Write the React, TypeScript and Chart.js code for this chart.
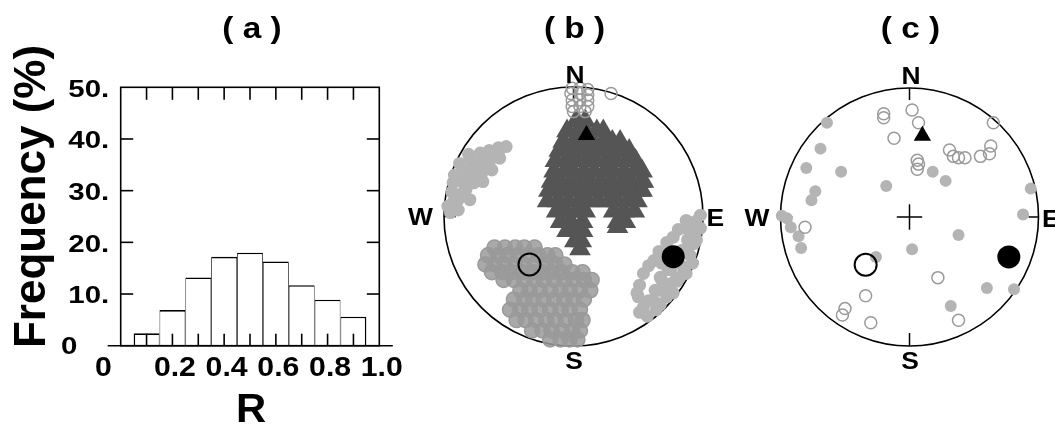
import React, { useEffect, useRef } from 'react';
import { Chart, registerables } from 'chart.js';
Chart.register(...registerables);

// ---------- (a) histogram data ----------
const R_BIN_CENTERS = [0.1, 0.2, 0.3, 0.4, 0.5, 0.6, 0.7, 0.8, 0.9];
const FREQUENCY = [2.4, 6.9, 13.2, 17.2, 18.0, 16.3, 11.7, 8.9, 5.6];
const Y_TICK_VALUES = [0, 10, 20, 30, 40, 50];
const Y_TICK_LABELS = ['0', '10.', '20.', '30.', '40.', '50.'];
const Y_INNER_TICKS = [10, 20, 30, 40];
const X_INNER_TICKS = [0.1, 0.2, 0.3, 0.4, 0.5, 0.6, 0.7, 0.8, 0.9];
const X_TICK_VALUES = [0.2, 0.4, 0.6, 0.8, 1.0];
const X_TICK_LABELS = ['0.2', '0.4', '0.6', '0.8', '1.0'];

// ---------- stereonet data (projection coords, % of primitive radius; x = E, y = N) ----------
const SIGMA1 = [10, 63];
const SIGMA2 = [-34, -37];
const SIGMA3 = [77, -31];

// (b) sigma1 solutions (rows: [y, x-list])
const B_SIGMA1_ROWS: [number, number[]][] = [
  [74, [2, 9]],
  [66, [-5, 3, 10, 18, 23]],
  [58, [-8, 0, 7, 15, 23, 30, 36]],
  [51, [-11, -4, 4, 12, 20, 27, 35, 43]],
  [43, [-14, -6, 2, 10, 17, 25, 33, 41, 48]],
  [35, [-15, -7, 0, 8, 16, 24, 31, 39, 47, 53]],
  [27, [-17, -10, -2, 6, 13, 21, 29, 37, 44, 52, 54]],
  [20, [-19, -11, -3, 4, 12, 20, 27, 35, 43, 51, 53]],
  [12, [-20, -12, -4, 4, 11, 19, 27, 34, 42, 49]],
  [4, [-13, -6, 2, 9, 31, 39, 47]],
  [-4, [-10, -2, 7, 34, 40]],
  [-8, [34]],
  [-11, [-5, 3, 7]],
  [-19, [1, 6]],
  [-25, [5]],
];
const B_SIGMA3_WEST = [
  [-52, 54], [-58, 53], [-65, 51], [-72, 49], [-81, 48], [-57, 45], [-65, 44], [-72, 41], [-80, 44],
  [-88, 41], [-63, 36], [-71, 33], [-79, 35], [-86, 33], [-92, 32], [-70, 27], [-77, 26], [-85, 26],
  [-93, 26], [-94, 19], [-86, 18], [-80, 13], [-93, 11], [-97, 8], [-89, 5], [-95, 3],
  [-83, 21], [-77, 28], [-71, 36], [-65, 42], [-58, 48], [-89, 13], [-75, 38], [-68, 45], [-86, 30], [-80, 36],
];
const B_SIGMA3_EAST = [
  [98, 1], [94, -4], [87, -3], [87, -9], [81, -10], [93, -13], [77, -16], [72, -20], [93, -21], [66, -27],
  [62, -34], [58, -38], [92, -36], [87, -44], [82, -47], [54, -44], [51, -53], [50, -62], [54, -70],
  [57, -77], [62, -65], [68, -57], [75, -52], [80, -50], [64, -72], [72, -62], [77, -59], [67, -47],
  [75, -41], [85, -39], [49, -59], [88, -26], [68, -36],
  [58, -65], [63, -57], [68, -49], [73, -41], [78, -35], [84, -26], [88, -18], [93, -9], [51, -74],
  [67, -68], [73, -58], [79, -49], [85, -40], [90, -30], [95, -18], [98, -9],
];
const B_SIGMA2_ROWS: [number, number[]][] = [
  [-24, [-61, -53, -45, -38, -30]],
  [-30, [-66, -58, -51, -43, -35, -27, -20, -14]],
  [-37, [-68, -61, -53, -45, -38, -30, -22, -14, -7]],
  [-43, [-63, -55, -48, -40, -32, -24, -17, -9, -1, 7]],
  [-49, [-54, -46, -38, -30, -23, -15, -7, 0, 8, 14]],
  [-57, [-41, -34, -26, -18, -10, -3, 5, 13]],
  [-64, [-46, -38, -31, -23, -15, -7, 0, 8]],
  [-72, [-49, -41, -34, -26, -18, -10, -3, 5]],
  [-80, [-44, -37, -29, -21, -14, -6, 2, 7]],
  [-88, [-32, -24, -17, -9, -1, 5]],
  [-95, [-18, -10, -3, 3]],
];
const B_NORTH_OPEN = [
  [-1, 99], [5, 99], [11, 98], [-2, 95], [5, 95], [11, 94], [-1, 90], [5, 90], [11, 90],
  [-1, 85], [5, 85], [11, 85], [0, 81], [9, 81], [29, 95],
];

// (c)
const C_FILLED = [
  [-64, 73], [-69, 53], [-80, 38], [-53, 35], [-73, 20], [-76, 13], [-18, 24], [18, 35], [28, 28],
  [94, 22], [88, 2], [-99, 1], [-95, -1], [-92, -8], [-86, -15], [-84, -24], [38, -14], [2, -25],
  [-26, -31], [60, -55], [81, -56], [32, -69],
];
const C_OPEN = [
  [2, 83], [-20, 80], [-20, 77], [7, 73], [-12, 61], [65, 73], [31, 52], [34, 47], [38, 46], [43, 46],
  [55, 47], [62, 49], [63, 55], [6, 44], [7, 41], [6, 37], [-81, -8], [22, -47], [-34, -61],
  [-50, -71], [-52, -76], [-30, -82], [38, -80],
];

// ---------- helpers ----------
const FONT = '"Liberation Sans", Arial, Helvetica, sans-serif';

function txt(ctx: CanvasRenderingContext2D, s: string, x: number, y: number, size: number,
  sx = 1, align: CanvasTextAlign = 'center', rot = 0) {
  ctx.save();
  ctx.translate(x, y);
  if (rot) ctx.rotate(rot);
  ctx.scale(sx, 1);
  ctx.font = `bold ${size}px ${FONT}`;
  ctx.textAlign = align;
  ctx.textBaseline = 'alphabetic';
  ctx.fillStyle = '#000';
  ctx.fillText(s, 0, 0);
  ctx.restore();
}

function seg(ctx: CanvasRenderingContext2D, x1: number, y1: number, x2: number, y2: number) {
  ctx.beginPath();
  ctx.moveTo(x1, y1);
  ctx.lineTo(x2, y2);
  ctx.stroke();
}

const toPts = (arr: number[][]) => arr.map(([x, y]) => ({ x, y }));
const rowsToPts = (rows: [number, number[]][]) =>
  rows.flatMap(([y, xs]) => xs.map((x) => ({ x, y })));

// ---------- (a) ----------
const histPlugin = {
  id: 'histDecor',
  afterDraw(chart: any) {
    const { ctx, chartArea: a, scales } = chart;
    const x = scales.x, y = scales.y;
    ctx.save();
    ctx.strokeStyle = '#000';
    ctx.lineWidth = 1.6;
    ctx.strokeRect(a.left, a.top, a.right - a.left, a.bottom - a.top);
    seg(ctx, a.left - 13, a.bottom, a.right + 13.5, a.bottom);
    X_INNER_TICKS.forEach((v) => {
      const px = x.getPixelForValue(v);
      seg(ctx, px, a.bottom, px, a.bottom - 12);
      seg(ctx, px, a.top, px, a.top + 12.5);
    });
    Y_INNER_TICKS.forEach((v) => {
      const py = y.getPixelForValue(v);
      seg(ctx, a.left, py, a.left + 12.5, py);
      seg(ctx, a.right, py, a.right - 12.5, py);
    });
    ctx.restore();

    Y_TICK_VALUES.forEach((v, i) => {
      const py = y.getPixelForValue(v);
      if (v === 0) txt(ctx, Y_TICK_LABELS[i], a.left - 51.5, py + 8.6, 23, 1.28, 'center');
      else txt(ctx, Y_TICK_LABELS[i], a.left - 11.5, py + 9.4, 23, 1.28, 'right');
    });
    txt(ctx, '0', a.left - 17.2, a.bottom + 30, 27, 1.12, 'center');
    X_TICK_VALUES.forEach((v, i) => {
      txt(ctx, X_TICK_LABELS[i], x.getPixelForValue(v) + 2.5, a.bottom + 30, 27, 1.12, 'center');
    });
    const mid = (a.left + a.right) / 2;
    txt(ctx, 'R', mid + 1, 421.5, 41, 1.02, 'center');
    txt(ctx, 'Frequency (%)', 45, 196.5, 44, 1, 'center', -Math.PI / 2);
    txt(ctx, '( a )', mid + 2, 38, 29, 1.15, 'center');
  },
};

function histConfig(): any {
  const n = FREQUENCY.length;
  return {
    type: 'bar',
    data: {
      datasets: [{
        data: R_BIN_CENTERS.map((x, i) => ({ x, y: FREQUENCY[i] })),
        backgroundColor: '#ffffff',
        borderColor: '#000000',
        borderWidth: (c: any) => ({
          top: 1.6, bottom: 0,
          left: c.dataIndex === 0 ? 1.6 : 0.8,
          right: c.dataIndex === n - 1 ? 1.6 : 0.8,
        }),
        borderSkipped: 'start',
        barPercentage: 1,
        categoryPercentage: 1,
        inflateAmount: 0,
      }],
    },
    options: {
      responsive: false,
      animation: false,
      events: [],
      layout: { padding: { left: 120.7, right: 25.7, top: 87.3, bottom: 79.3 } },
      scales: {
        x: { type: 'linear', min: 0, max: 1, offset: false, display: false, grid: { offset: false } },
        y: { type: 'linear', min: 0, max: 50, display: false },
      },
      plugins: { legend: { display: false }, tooltip: { enabled: false } },
    },
    plugins: [histPlugin],
  };
}

// ---------- stereonets ----------
function netPlugin(label: string) {
  return {
    id: 'net' + label,
    beforeDatasetsDraw(chart: any) {
      const { ctx, scales } = chart;
      const cx = scales.x.getPixelForValue(0), cy = scales.y.getPixelForValue(0);
      const r = scales.x.getPixelForValue(100) - cx;
      ctx.save();
      ctx.strokeStyle = '#000';
      ctx.lineWidth = 1.6;
      ctx.beginPath();
      ctx.arc(cx, cy, r, 0, Math.PI * 2);
      ctx.stroke();
      ctx.lineWidth = 1.5;
      seg(ctx, cx, cy - r, cx, cy - r + 12);
      seg(ctx, cx, cy + r, cx, cy + r - 13);
      seg(ctx, cx + r, cy, cx + r - 10, cy);
      seg(ctx, cx - r, cy, cx - r + 12, cy);
      seg(ctx, cx - 12.7, cy, cx + 12.7, cy);
      seg(ctx, cx, cy - 12.7, cx, cy + 12.7);
      ctx.restore();
    },
    afterDraw(chart: any) {
      const { ctx, scales } = chart;
      const cx = scales.x.getPixelForValue(0), cy = scales.y.getPixelForValue(0);
      const r = scales.x.getPixelForValue(100) - cx;
      txt(ctx, '( ' + label + ' )', cx + 1, 38, 29, 1.15, 'center');
      txt(ctx, 'N', cx + 1.5, cy - r - 3.7, 24, 1.1, 'center');
      txt(ctx, 'S', cx + 0.5, cy + r + 23, 24, 1.1, 'center');
      txt(ctx, 'E', cx + r + 3.5, cy + 9.6, 24, 1.1, 'left');
      txt(ctx, 'W', cx - r - 11, cy + 8.6, 24, 1.1, 'right');
    },
  };
}

function ds(pts: any[], o: any): any {
  return {
    data: pts,
    pointStyle: o.style || 'circle',
    pointRadius: o.r,
    pointHoverRadius: o.r,
    pointBackgroundColor: o.fill,
    backgroundColor: o.fill,
    pointBorderColor: o.stroke || 'rgba(0,0,0,0)',
    borderColor: o.stroke || 'rgba(0,0,0,0)',
    pointBorderWidth: o.bw || 0,
    borderWidth: o.bw || 0,
    showLine: false,
    clip: false,
    order: o.order,
  };
}

const LIGHT = '#b4b4b4';
const OPEN_GRAY = '#9a9a9a';
const CLEAR = 'rgba(255,255,255,0)';

function axesDatasets(): any[] {
  return [
    ds(toPts([SIGMA1]), { style: 'triangle', r: 10, fill: '#000', order: 1 }),
    ds(toPts([SIGMA2]), { r: 11, fill: CLEAR, stroke: '#000', bw: 2, order: 1 }),
    ds(toPts([SIGMA3]), { r: 11.5, fill: '#000', order: 1 }),
  ];
}

function netConfig(label: string, datasets: any[], padding: any): any {
  return {
    type: 'scatter',
    data: { datasets },
    options: {
      responsive: false,
      animation: false,
      events: [],
      layout: { padding },
      scales: {
        x: { type: 'linear', min: -100, max: 100, display: false },
        y: { type: 'linear', min: -100, max: 100, display: false },
      },
      plugins: { legend: { display: false }, tooltip: { enabled: false } },
    },
    plugins: [netPlugin(label)],
  };
}

function netBConfig() {
  return netConfig('b', [
    ds(rowsToPts(B_SIGMA1_ROWS), { style: 'triangle', r: 12.5, fill: '#555555', order: 10 }),
    ds(toPts(B_SIGMA3_WEST), { r: 6.5, fill: LIGHT, order: 8 }),
    ds(toPts(B_SIGMA3_EAST), { r: 6.5, fill: LIGHT, order: 8 }),
    ds(rowsToPts(B_SIGMA2_ROWS), { r: 7.5, fill: 'rgba(154,154,154,0.85)', stroke: OPEN_GRAY, bw: 1.5, order: 8 }),
    ds(toPts(B_NORTH_OPEN), { r: 6, fill: CLEAR, stroke: OPEN_GRAY, bw: 1.5, order: 7 }),
    ...axesDatasets(),
  ], { left: 39, right: 37, top: 87, bottom: 79 });
}

function netCConfig() {
  return netConfig('c', [
    ds(toPts(C_FILLED), { r: 6, fill: LIGHT, order: 8 }),
    ds(toPts(C_OPEN), { r: 6, fill: CLEAR, stroke: OPEN_GRAY, bw: 1.5, order: 7 }),
    ...axesDatasets(),
  ], { left: 40.5, right: 16.5, top: 88, bottom: 79 });
}

export default function App() {
  const refA = useRef<HTMLCanvasElement>(null);
  const refB = useRef<HTMLCanvasElement>(null);
  const refC = useRef<HTMLCanvasElement>(null);

  useEffect(() => {
    const charts = [
      new Chart(refA.current as HTMLCanvasElement, histConfig()),
      new Chart(refB.current as HTMLCanvasElement, netBConfig()),
      new Chart(refC.current as HTMLCanvasElement, netCConfig()),
    ];
    return () => charts.forEach((c) => c.destroy());
  }, []);

  return (
    <div style={{ position: 'fixed', left: 0, top: 0, width: 1055, height: 425, background: '#fff' }}>
      <canvas ref={refA} width={405} height={425} style={{ position: 'absolute', left: 0, top: 0 }} />
      <canvas ref={refB} width={335} height={425} style={{ position: 'absolute', left: 405, top: 0 }} />
      <canvas ref={refC} width={315} height={425} style={{ position: 'absolute', left: 740, top: 0 }} />
    </div>
  );
}
